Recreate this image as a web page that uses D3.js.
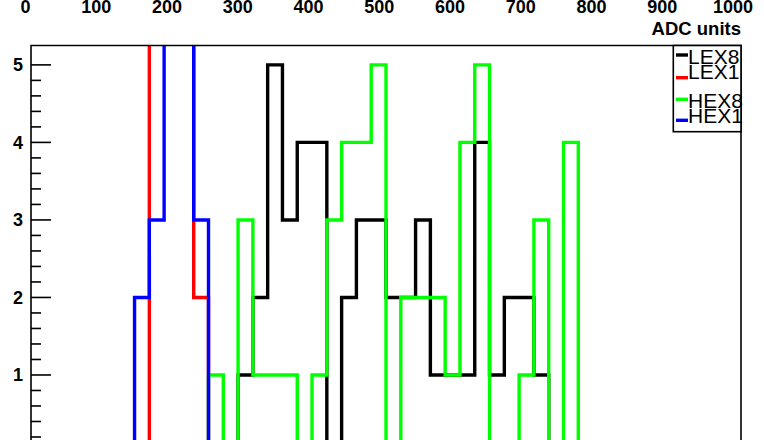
<!DOCTYPE html>
<html>
<head>
<meta charset="utf-8">
<script src="https://cdn.jsdelivr.net/npm/d3@7"></script>
<style>
  html, body { margin: 0; padding: 0; background: #fff; }
  svg { display: block; }
</style>
</head>
<body>
<svg id="chart" width="764" height="440"></svg>
<script>
// ---- data ----
// lower edges of the histogram bins (ADC units), last entry is the upper edge of the last bin
const binEdges = [147, 168, 189, 210, 231, 252, 273, 294, 315, 336, 357, 378, 399, 420, 441, 462,
                  483, 504, 525, 546, 567, 588, 609, 630, 651, 672, 693, 714, 735, 756, 777, 798];
const LEX8 = [0, 0, 0, 0, 0, 0, 0, 1, 2, 5, 3, 4, 4, 0, 2, 3, 3, 2, 2, 3, 1, 1, 1, 4, 1, 2, 2, 1, 0, 0, 0];
const LEX1 = [0, 8, 11, 7, 2, 0, 0, 0, 0, 0, 0, 0, 0, 0, 0, 0, 0, 0, 0, 0, 0, 0, 0, 0, 0, 0, 0, 0, 0, 0, 0];
const HEX8 = [0, 0, 0, 0, 0, 1, 0, 3, 1, 1, 1, 0, 1, 3, 4, 4, 5, 0, 2, 2, 2, 1, 4, 5, 0, 0, 1, 3, 0, 4, 0];
const HEX1 = [2, 3, 7, 6, 3, 0, 0, 0, 0, 0, 0, 0, 0, 0, 0, 0, 0, 0, 0, 0, 0, 0, 0, 0, 0, 0, 0, 0, 0, 0, 0];
const seriesNames = ["LEX8", "LEX1", "HEX8", "HEX1"];
const seriesColors = ["#000000", "#ff0000", "#00ff00", "#0000ff"];
const topTickLabels = [0, 100, 200, 300, 400, 500, 600, 700, 800, 900, 1000];
const yTickLabels = [1, 2, 3, 4, 5];
const xTitle = "ADC units";

const seriesData = [LEX8, LEX1, HEX8, HEX1];

// ---- layout ----
const svg = d3.select("#chart");
const frame = { left: 31, right: 741, top: 45.5, bottom: 452.5 };

const x = d3.scaleLinear().domain([0, 1008]).range([frame.left, frame.right]);
const y = d3.scaleLinear().domain([0, 5.25]).range([frame.bottom, frame.top]);
const xTop = d3.scaleLinear().domain([0, 1000]).range([25.5, 733]);

const font = "'Liberation Sans', Arial, Helvetica, sans-serif";

// top labels (from upper axis, partly cut)
svg.append("g").selectAll("text").data(topTickLabels).join("text")
  .attr("x", d => xTop(d)).attr("y", 12.6)
  .attr("text-anchor", "middle")
  .attr("font-family", font).attr("font-weight", "bold").attr("font-size", 18)
  .text(d => d);

svg.append("text")
  .attr("x", 741).attr("y", 35)
  .attr("text-anchor", "end")
  .attr("font-family", font).attr("font-weight", "bold").attr("font-size", 18.5)
  .text(xTitle);

// clip
svg.append("defs").append("clipPath").attr("id", "frameClip")
  .append("rect")
  .attr("x", frame.left).attr("y", frame.top)
  .attr("width", frame.right - frame.left).attr("height", frame.bottom - frame.top);

// histograms
const line = d3.line().x(d => x(d[0])).y(d => y(d[1])).curve(d3.curveStepAfter);
const n = binEdges.length - 1;
const gH = svg.append("g").attr("clip-path", "url(#frameClip)");
seriesData.forEach((vals, k) => {
  const pts = [[binEdges[0], 0]];
  for (let i = 0; i < n; i++) pts.push([binEdges[i], vals[i]]);
  pts.push([binEdges[n], 0]);
  gH.append("path")
    .attr("d", line(pts))
    .attr("fill", "none")
    .attr("stroke", seriesColors[k])
    .attr("stroke-width", 3.4)
    .attr("stroke-linejoin", "miter")
    .attr("stroke-linecap", "butt");
});

// frame
svg.append("path")
  .attr("d", `M${frame.left},${frame.bottom} V${frame.top} H${frame.right} V${frame.bottom}`)
  .attr("fill", "none").attr("stroke", "#000").attr("stroke-width", 1.6);

// y axis ticks
const minorTicks = d3.range(0, 26).map(i => i / 5).filter(v => v <= 5.25);
svg.append("g").selectAll("line").data(minorTicks).join("line")
  .attr("x1", frame.left).attr("x2", d => frame.left + (Math.abs(d - Math.round(d)) < 1e-6 ? 20 : 10))
  .attr("y1", d => y(d)).attr("y2", d => y(d))
  .attr("stroke", "#000").attr("stroke-width", 1.6);

svg.append("g").selectAll("text").data(yTickLabels).join("text")
  .attr("x", 23).attr("y", d => y(d)).attr("dy", "0.36em")
  .attr("text-anchor", "end")
  .attr("font-family", font).attr("font-weight", "bold").attr("font-size", 18)
  .text(d => d);

// legend
const leg = svg.append("g");
leg.append("rect")
  .attr("x", 673.3).attr("y", frame.top)
  .attr("width", 741 - 673.3).attr("height", 131.7 - frame.top)
  .attr("fill", "#fff").attr("stroke", "#000").attr("stroke-width", 1.6);
const legLineY = [55, 77.7, 99.3, 120.3];
const legTextY = [64, 79, 108, 123];
seriesNames.forEach((name, k) => {
  leg.append("line")
    .attr("x1", 676).attr("x2", 688)
    .attr("y1", legLineY[k]).attr("y2", legLineY[k])
    .attr("stroke", seriesColors[k]).attr("stroke-width", 3.4);
  leg.append("text")
    .attr("x", 688).attr("y", legTextY[k])
    .attr("font-family", font).attr("font-size", 21)
    .text(name);
});
</script>
</body>
</html>
